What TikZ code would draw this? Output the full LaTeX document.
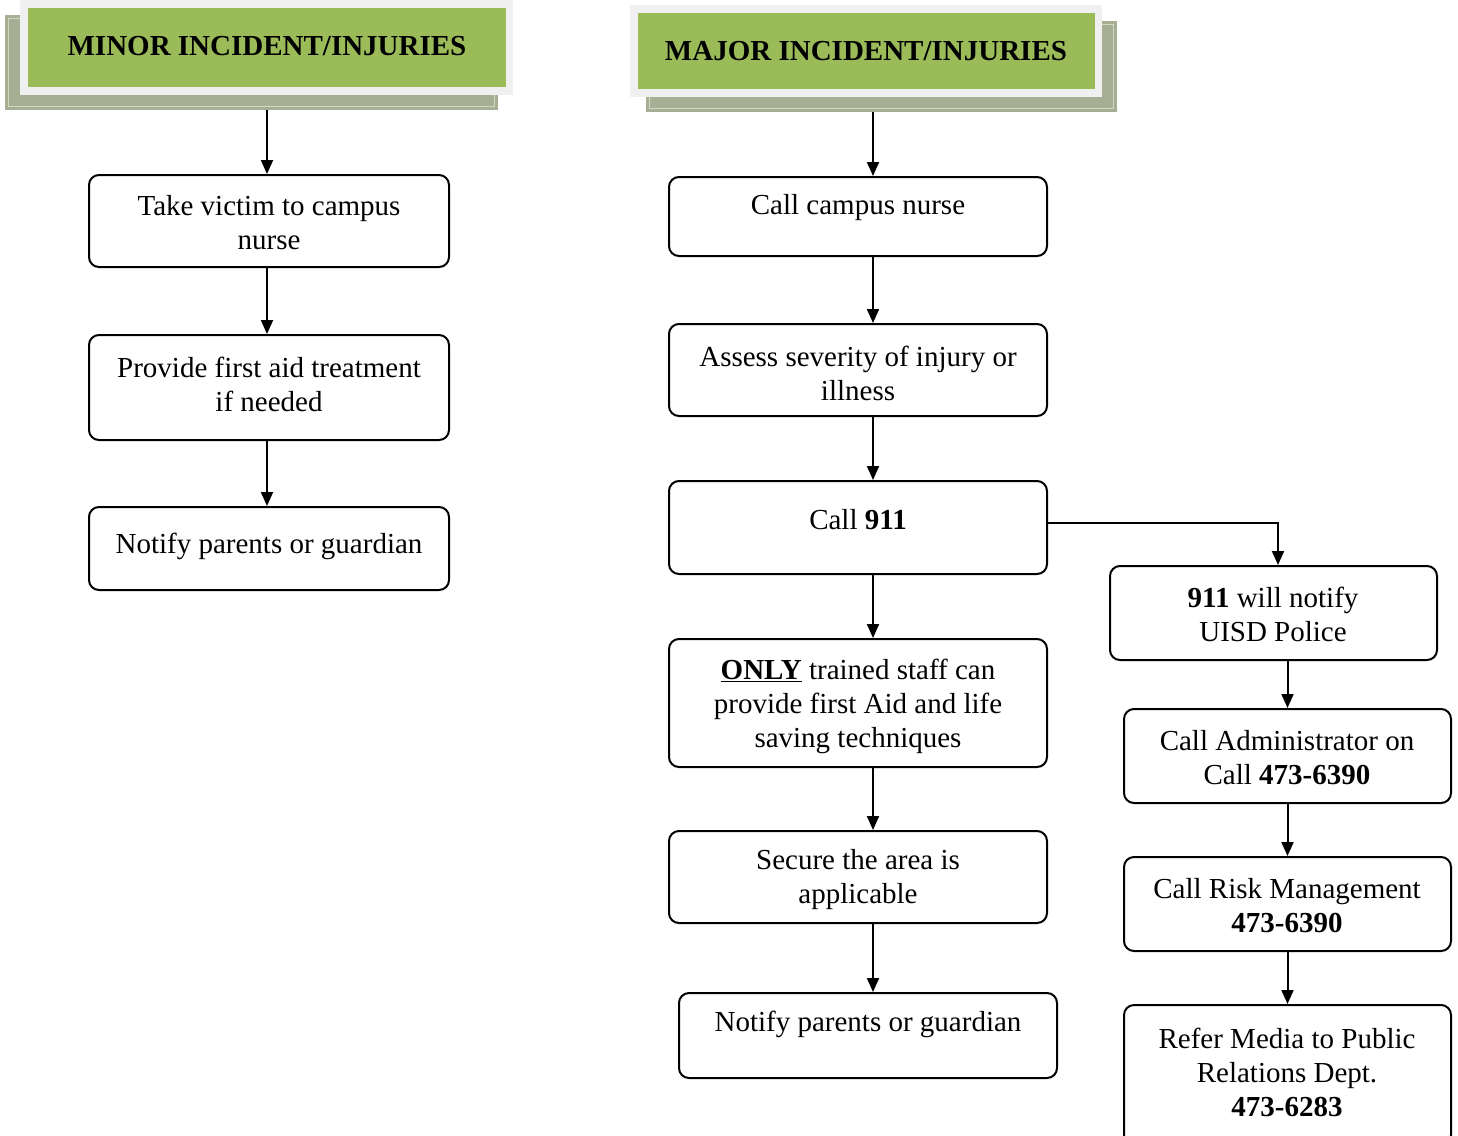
\documentclass[tikz,border=0pt]{standalone}
\usepackage{fontspec}
\setmainfont{Liberation Serif}
\usetikzlibrary{arrows.meta}
\definecolor{hdrgreen}{HTML}{9BBB59}
\definecolor{hdrframe}{HTML}{F0F0F0}
\definecolor{hdrshadow}{HTML}{A6AE94}
\definecolor{hdrline}{HTML}{D2D6C6}
\begin{document}
\begin{tikzpicture}[x=1pt,y=-1pt,
  stepbox/.style={draw=black,line width=2pt,rounded corners=10pt,inner sep=0pt,fill=white},
  txt/.style={align=center,inner sep=0pt,font=\fontsize{29}{34}\selectfont},
  hdrtxt/.style={inner sep=0pt,font=\fontsize{29}{30}\selectfont\bfseries},
  shadowbox/.style={fill=hdrshadow,draw=none,inner sep=0pt},
  framebox/.style={fill=hdrframe,draw=none,inner sep=0pt},
  greenbox/.style={fill=hdrgreen,draw=none,inner sep=0pt},
  arr/.style={draw=black,line width=2pt,-{Triangle[length=14pt,width=12pt]}}]
\useasboundingbox (0,0) rectangle (1458,1135);

% ---- header: minor incidents
\node[shadowbox,minimum width=493pt,minimum height=95pt] (minshadow) at (251.5,62.5) {};
\draw[hdrline,line width=1pt] ([xshift=4pt,yshift=4pt]minshadow.south west) rectangle ([xshift=-4pt,yshift=-4pt]minshadow.north east);
\node[framebox,minimum width=493pt,minimum height=95pt] (minframe) at (266.5,47.5) {};
\node[greenbox,minimum width=478pt,minimum height=79pt] (mingreen) at (267,47.5) {};
\node[hdrtxt] (minhead) at (267,46) {MINOR INCIDENT/INJURIES};

% ---- header: major incidents
\node[shadowbox,minimum width=471pt,minimum height=91pt] (majshadow) at (881.5,66.5) {};
\draw[hdrline,line width=1pt] ([xshift=4pt,yshift=4pt]majshadow.south west) rectangle ([xshift=-4pt,yshift=-4pt]majshadow.north east);
\node[framebox,minimum width=472pt,minimum height=92pt] (majframe) at (866,51) {};
\node[greenbox,minimum width=457pt,minimum height=76pt] (majgreen) at (866.5,51) {};
\node[hdrtxt] (majhead) at (866,51) {MAJOR INCIDENT/INJURIES};

% ---- minor column
\node[stepbox,minimum width=360pt,minimum height=92pt] (b1) at (269,221) {};
\node[txt] (b1t) at (269,223) {Take victim to campus\\nurse};
\node[stepbox,minimum width=360pt,minimum height=105pt] (b2) at (269,387.5) {};
\node[txt] (b2t) at (269,384) {Provide first aid treatment\\if needed};
\node[stepbox,minimum width=360pt,minimum height=83pt] (b3) at (269,548.5) {};
\node[txt] (b3t) at (269,546) {Notify parents or guardian};

\draw[arr] ([xshift=-2pt]b1.north |- minshadow.south) -- ([xshift=-2pt]b1.north);
\draw[arr] ([xshift=-2pt]b1.south) -- ([xshift=-2pt]b2.north);
\draw[arr] ([xshift=-2pt]b2.south) -- ([xshift=-2pt]b3.north);

% ---- major column
\node[stepbox,minimum width=378pt,minimum height=79pt] (c1) at (858,216.5) {};
\node[txt] (c1t) at (858,208) {Call campus nurse};
\node[stepbox,minimum width=378pt,minimum height=92pt] (c2) at (858,370) {};
\node[txt] (c2t) at (858,373) {Assess severity of injury or\\illness};
\node[stepbox,minimum width=378pt,minimum height=93pt] (c3) at (858,527.5) {};
\node[txt] (c3t) at (858,520) {Call \textbf{911}};
\node[stepbox,minimum width=378pt,minimum height=128pt] (c4) at (858,703) {};
\node[txt] (c4t) at (858,706) {\textbf{\underline{ONLY}} trained staff can\\provide first Aid and life\\saving techniques};
\node[stepbox,minimum width=378pt,minimum height=92pt] (c5) at (858,877) {};
\node[txt] (c5t) at (858,880) {Secure the area is\\applicable};
\node[stepbox,minimum width=378pt,minimum height=85pt] (c6) at (868,1035.5) {};
\node[txt] (c6t) at (868,1024) {Notify parents or guardian};

\draw[arr] ([xshift=15pt]c1.north |- majshadow.south) -- ([xshift=15pt]c1.north);
\draw[arr] ([xshift=15pt]c1.south) -- ([xshift=15pt]c2.north);
\draw[arr] ([xshift=15pt]c2.south) -- ([xshift=15pt]c3.north);
\draw[arr] ([xshift=15pt]c3.south) -- ([xshift=15pt]c4.north);
\draw[arr] ([xshift=15pt]c4.south) -- ([xshift=15pt]c5.north);
\draw[arr] ([xshift=15pt]c5.south) -- ([xshift=15pt]c5.south |- c6.north);

% ---- emergency follow-up column
\node[stepbox,minimum width=327pt,minimum height=94pt] (d1) at (1273.5,613) {};
\node[txt] (d1t) at (1273,614) {\textbf{911} will notify\\UISD Police};
\node[stepbox,minimum width=327pt,minimum height=94pt] (d2) at (1287.5,756) {};
\node[txt] (d2t) at (1287,758) {Call Administrator on\\Call \textbf{473-6390}};
\node[stepbox,minimum width=327pt,minimum height=94pt] (d3) at (1287.5,904) {};
\node[txt] (d3t) at (1287,906) {Call Risk Management\\\textbf{473-6390}};
\node[stepbox,minimum width=327pt,minimum height=140pt] (d4) at (1287.5,1075) {};
\node[txt] (d4t) at (1287,1072) {Refer Media to Public\\Relations Dept.\\\textbf{473-6283}};

\draw[arr] ([yshift=5pt]c3.east) -| ([xshift=4.5pt]d1.north);
\draw[arr] (d2.north |- d1.south) -- (d2.north);
\draw[arr] (d2.south) -- (d3.north);
\draw[arr] (d3.south) -- (d4.north);
\end{tikzpicture}
\end{document}
